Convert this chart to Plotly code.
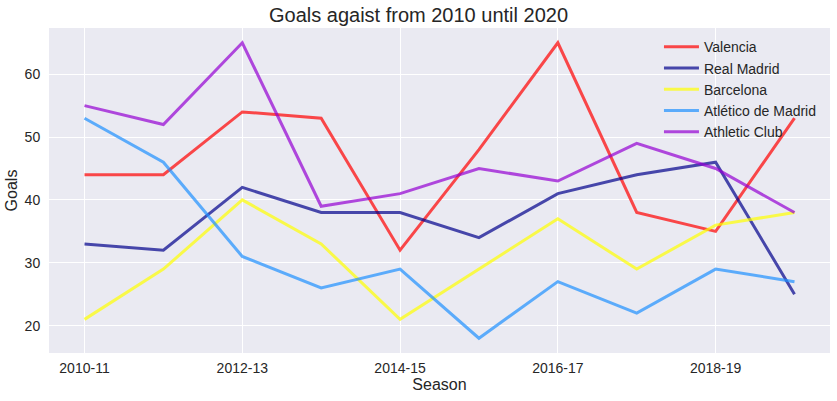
import plotly.graph_objs as go

# Seasons and goals conceded per club
seasons = ['2010-11', '2011-12', '2012-13', '2013-14', '2014-15',
           '2015-16', '2016-17', '2017-18', '2018-19', '2019-20']
tick_seasons = ['2010-11', '2012-13', '2014-15', '2016-17', '2018-19']

valencia = [44, 44, 54, 53, 32, 48, 65, 38, 35, 53]
real_madrid = [33, 32, 42, 38, 38, 34, 41, 44, 46, 25]
barcelona = [21, 29, 40, 33, 21, 29, 37, 29, 36, 38]
atletico = [53, 46, 31, 26, 29, 18, 27, 22, 29, 27]
athletic = [55, 52, 65, 39, 41, 45, 43, 49, 45, 38]

clubs = ['Valencia', 'Real Madrid', 'Barcelona', 'Atlético de Madrid', 'Athletic Club']
club_goals = [valencia, real_madrid, barcelona, atletico, athletic]
club_colors = ['rgba(255,0,0,0.7)', 'rgba(0,0,139,0.7)', 'rgba(255,255,0,0.7)',
               'rgba(30,144,255,0.7)', 'rgba(148,0,211,0.7)']

fig = go.Figure()
for name, goals, color in zip(clubs, club_goals, club_colors):
    fig.add_trace(go.Scatter(x=seasons, y=goals, mode='lines', name=name,
                             line=dict(color=color, width=3)))

fig.update_layout(
    width=837, height=401,
    paper_bgcolor='white', plot_bgcolor='#EAEAF2',
    font=dict(family='Liberation Sans, Arial', size=14, color='#262626'),
    title=dict(text='Goals agaist from 2010 until 2020', x=0.5, xanchor='center',
               y=0.963, yanchor='middle', font=dict(size=20, color='#262626')),
    margin=dict(l=49, r=7, t=28, b=48),
    xaxis=dict(title=dict(text='Season', font=dict(size=16), standoff=4),
               type='category', categoryorder='array', categoryarray=seasons,
               tickvals=tick_seasons, range=[-0.45, 9.45], automargin=False,
               showgrid=True, gridcolor='white', gridwidth=1.2,
               zeroline=False, showline=False,
               ticks='outside', ticklen=2, tickcolor='rgba(0,0,0,0)'),
    yaxis=dict(title=dict(text='Goals', font=dict(size=16), standoff=3),
               range=[15.65, 67.35], tickvals=[20, 30, 40, 50, 60], automargin=False,
               showgrid=True, gridcolor='white', gridwidth=1.2,
               zeroline=False, showline=False,
               ticks='outside', ticklen=5, tickcolor='rgba(0,0,0,0)'),
    legend=dict(x=0.781, y=0.99, xanchor='left', yanchor='top',
                bgcolor='rgba(0,0,0,0)', font=dict(size=14),
                tracegroupgap=0, itemwidth=35),
    showlegend=True,
)

# drop the default 8px body margin so the figure fills the window exactly
fig.write_html("out.html", config={'displayModeBar': False},
               post_script="document.body.style.margin = '0';")
